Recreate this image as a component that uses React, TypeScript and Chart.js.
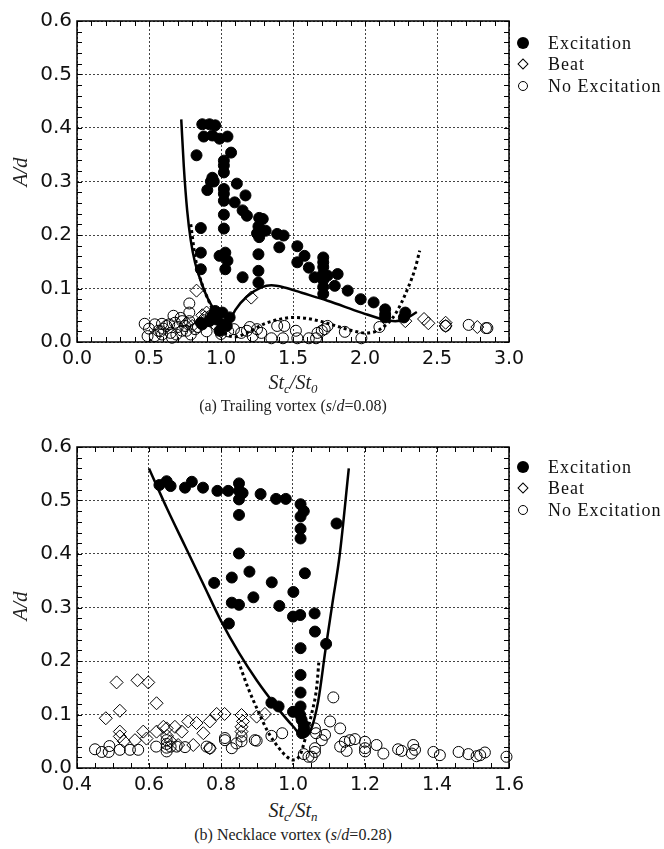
import React, { useEffect, useRef } from "react";
import { Chart, registerables } from "chart.js";
Chart.register(...registerables);

// ---------- Panel (a): Trailing vortex ----------
const topXTicks = [0, 0.5, 1.0, 1.5, 2.0, 2.5, 3.0];
const topYTicks = [0, 0.1, 0.2, 0.3, 0.4, 0.5, 0.6];

const topExcitation: [number, number][] = [
  [0.87, 0.407], [0.92, 0.407], [0.96, 0.405],
  [0.88, 0.384], [0.94, 0.386], [0.99, 0.38], [1.045, 0.384],
  [0.83, 0.349], [1.07, 0.354],
  [1.02, 0.339], [1.02, 0.33], [1.02, 0.317],
  [0.94, 0.307], [0.95, 0.3], [0.93, 0.3],
  [0.905, 0.284], [1.11, 0.296],
  [1.02, 0.286], [1.02, 0.277], [1.02, 0.264],
  [1.17, 0.274], [1.095, 0.261],
  [1.15, 0.246], [1.18, 0.236],
  [1.02, 0.238], [1.02, 0.212],
  [1.265, 0.232], [1.29, 0.23], [1.26, 0.216], [1.31, 0.208], [1.25, 0.203], [1.265, 0.196],
  [0.86, 0.213],
  [1.39, 0.202], [1.435, 0.199], [1.405, 0.177], [1.53, 0.179],
  [0.86, 0.167], [0.99, 0.161], [1.03, 0.167], [1.045, 0.152],
  [1.26, 0.164], [1.58, 0.161], [1.53, 0.149],
  [1.71, 0.158], [1.71, 0.149], [1.71, 0.14], [1.71, 0.128], [1.71, 0.116], [1.71, 0.103], [1.71, 0.09],
  [0.86, 0.136], [1.03, 0.136], [1.61, 0.139], [1.65, 0.121], [1.74, 0.124], [1.81, 0.127],
  [1.26, 0.133], [1.26, 0.111], [1.15, 0.121],
  [1.79, 0.105], [1.88, 0.096], [1.97, 0.08], [2.06, 0.074],
  [2.14, 0.061], [2.14, 0.052], [2.14, 0.046], [2.28, 0.055], [2.27, 0.046],
  [0.87, 0.033], [0.92, 0.039], [0.96, 0.058], [1.01, 0.055], [1.06, 0.046], [1.01, 0.033],
  [0.99, 0.021], [0.94, 0.049], [1.04, 0.03], [0.97, 0.042], [0.86, 0.036],
];

const topBeat: [number, number][] = [
  [0.83, 0.096], [1.21, 0.083], [0.87, 0.05], [0.9, 0.055], [0.93, 0.045], [0.88, 0.04],
  [0.95, 0.035], [1.0, 0.02], [0.8, 0.03], [0.76, 0.035], [0.89, 0.046],
  [2.28, 0.039], [2.41, 0.043], [2.44, 0.035], [2.56, 0.036], [2.56, 0.03], [2.78, 0.028],
];

const topNoExcitation: [number, number][] = [
  [0.47, 0.034], [0.54, 0.033], [0.59, 0.034], [0.64, 0.033], [0.68, 0.036], [0.73, 0.039],
  [0.78, 0.039], [0.78, 0.072], [0.78, 0.055], [0.67, 0.049], [0.72, 0.045],
  [0.49, 0.011], [0.54, 0.011], [0.565, 0.021], [0.59, 0.014], [0.65, 0.017], [0.66, 0.008],
  [0.69, 0.014], [0.73, 0.021], [0.76, 0.021], [0.79, 0.014], [0.82, 0.024],
  [0.5, 0.025], [0.6, 0.025], [0.62, 0.03], [0.7, 0.028], [0.75, 0.03], [0.84, 0.028], [0.58, 0.02],
  [1.09, 0.024], [1.14, 0.017], [1.18, 0.021], [1.22, 0.011], [1.25, 0.024], [1.28, 0.017], [1.2, 0.028],
  [1.35, 0.007], [1.39, 0.03], [1.44, 0.03], [1.43, 0.007], [1.52, 0.021], [1.53, 0.007],
  [1.61, 0.007], [1.67, 0.017], [1.7, 0.021], [1.72, 0.024], [1.74, 0.03], [1.66, 0.007],
  [1.86, 0.019], [1.975, 0.007], [2.1, 0.028], [2.56, 0.03], [2.72, 0.032], [2.84, 0.026], [2.85, 0.026],
  [0.93, 0.049], [1.0, 0.015], [1.05, 0.02], [0.9, 0.02],
];

const topSolid: [number, number][] = [
  [0.724, 0.416], [0.742, 0.327], [0.765, 0.246], [0.79, 0.19], [0.82, 0.148], [0.86, 0.114],
  [0.905, 0.083], [0.95, 0.061], [1.0, 0.036], [1.03, 0.03], [1.06, 0.039], [1.1, 0.06],
  [1.18, 0.085], [1.28, 0.102], [1.35, 0.106], [1.44, 0.102], [1.56, 0.092], [1.74, 0.077],
  [1.975, 0.055], [2.14, 0.041], [2.21, 0.039], [2.28, 0.043], [2.36, 0.056],
];

const topDotted: [number, number][] = [
  [0.79, 0.22], [0.82, 0.16], [0.86, 0.115], [0.91, 0.08], [0.96, 0.05], [1.0, 0.027],
  [1.05, 0.012], [1.1, 0.01], [1.2, 0.02], [1.3, 0.034], [1.4, 0.042], [1.5, 0.046],
  [1.6, 0.044], [1.7, 0.038], [1.8, 0.03], [1.9, 0.022], [2.0, 0.017], [2.1, 0.023],
  [2.21, 0.052], [2.3, 0.102], [2.35, 0.139], [2.38, 0.171],
];

// ---------- Panel (b): Necklace vortex ----------
const botXTicks = [0.4, 0.6, 0.8, 1.0, 1.2, 1.4, 1.6];
const botYTicks = [0, 0.1, 0.2, 0.3, 0.4, 0.5, 0.6];

const botExcitation: [number, number][] = [
  [0.629, 0.529], [0.649, 0.536], [0.66, 0.527], [0.7, 0.524], [0.719, 0.535], [0.75, 0.524],
  [0.79, 0.518], [0.82, 0.518], [0.85, 0.532], [0.85, 0.518], [0.86, 0.514], [0.85, 0.502],
  [0.91, 0.512], [0.953, 0.503], [0.98, 0.503], [1.021, 0.493], [1.03, 0.48], [1.021, 0.47],
  [1.021, 0.447], [1.021, 0.429], [1.121, 0.457], [0.85, 0.473], [0.85, 0.401], [0.879, 0.367],
  [0.781, 0.346], [0.83, 0.356], [0.941, 0.347], [1.033, 0.364], [1.001, 0.329], [0.89, 0.319],
  [0.83, 0.309], [0.85, 0.305], [0.962, 0.303], [1.0, 0.283], [1.02, 0.286], [1.06, 0.289],
  [0.822, 0.27], [1.061, 0.255], [1.092, 0.232], [1.021, 0.224], [1.021, 0.174], [1.021, 0.141],
  [1.021, 0.115], [1.0, 0.105], [1.02, 0.099], [1.024, 0.09], [1.03, 0.08], [1.03, 0.071],
  [1.025, 0.065], [0.94, 0.122], [0.96, 0.115],
];

const botBeat: [number, number][] = [
  [0.51, 0.16], [0.568, 0.164], [0.598, 0.16], [0.621, 0.121], [0.519, 0.107], [0.48, 0.093],
  [0.788, 0.101], [0.81, 0.101], [0.857, 0.099], [0.899, 0.096], [0.922, 0.101],
  [0.519, 0.068], [0.519, 0.059], [0.561, 0.052], [0.584, 0.068], [0.593, 0.055], [0.621, 0.068],
  [0.64, 0.077], [0.649, 0.074], [0.672, 0.077], [0.691, 0.068], [0.709, 0.087], [0.732, 0.084],
  [0.751, 0.065], [0.769, 0.087], [0.861, 0.087], [0.857, 0.077], [0.857, 0.068], [0.723, 0.043],
  [0.681, 0.043], [0.769, 0.037], [0.65, 0.06], [0.66, 0.05], [0.53, 0.05],
];

const botNoExcitation: [number, number][] = [
  [0.45, 0.035], [0.469, 0.03], [0.488, 0.03], [0.49, 0.041], [0.519, 0.034], [0.547, 0.034],
  [0.57, 0.034], [0.62, 0.04], [0.649, 0.052], [0.649, 0.045], [0.649, 0.038], [0.649, 0.031],
  [0.66, 0.04], [0.677, 0.04], [0.7, 0.039], [0.76, 0.04], [0.769, 0.037], [0.811, 0.052],
  [0.83, 0.037], [0.843, 0.046], [0.857, 0.059], [0.857, 0.05], [0.894, 0.052], [0.811, 0.056],
  [0.94, 0.06], [0.899, 0.051], [0.97, 0.065], [1.112, 0.132], [1.103, 0.087], [1.131, 0.074],
  [1.061, 0.074], [1.064, 0.065], [1.089, 0.062], [1.08, 0.052], [1.03, 0.026], [1.043, 0.021],
  [1.052, 0.021], [1.061, 0.03], [1.061, 0.037], [1.131, 0.04], [1.144, 0.049], [1.158, 0.052],
  [1.172, 0.054], [1.149, 0.032], [1.2, 0.049], [1.2, 0.037], [1.2, 0.031], [1.232, 0.043],
  [1.251, 0.027], [1.292, 0.035], [1.302, 0.032], [1.334, 0.043], [1.339, 0.034], [1.33, 0.027],
  [1.39, 0.03], [1.408, 0.024], [1.46, 0.03], [1.487, 0.026], [1.51, 0.022], [1.52, 0.024],
  [1.533, 0.029], [1.593, 0.021],
];

const botSolid: [number, number][] = [
  [0.6, 0.56], [0.65, 0.485], [0.7, 0.415], [0.75, 0.345], [0.8, 0.275], [0.85, 0.215],
  [0.9, 0.163], [0.95, 0.118], [1.0, 0.078], [1.03, 0.058], [1.05, 0.072], [1.07, 0.125],
  [1.09, 0.22], [1.11, 0.31], [1.13, 0.4], [1.155, 0.56],
];

const botDotted: [number, number][] = [
  [0.848, 0.2], [0.875, 0.15], [0.904, 0.105], [0.93, 0.068], [0.96, 0.038], [0.985, 0.02],
  [1.0, 0.015], [1.02, 0.025], [1.038, 0.065], [1.052, 0.102], [1.066, 0.152], [1.072, 0.2],
];

// ---------- chart helpers ----------
const toXY = (a: [number, number][]) => a.map(([x, y]) => ({ x, y }));

const frameTicksPlugin = {
  id: "frameTicks",
  afterDraw(chart: any, _args: any, opts: any) {
    const { ctx, chartArea: a, scales } = chart;
    const xs = scales.x;
    const ys = scales.y;
    const L = 5;
    ctx.save();
    ctx.strokeStyle = "#000";
    ctx.lineWidth = 1;
    ctx.beginPath();
    const nx = Math.round((opts.xMax - opts.xMin) / opts.xMinor);
    for (let i = 0; i <= nx; i++) {
      const v = opts.xMin + i * opts.xMinor;
      const p = Math.round(xs.getPixelForValue(v)) + 0.5;
      ctx.moveTo(p, a.bottom);
      ctx.lineTo(p, a.bottom - L);
      ctx.moveTo(p, a.top);
      ctx.lineTo(p, a.top + L);
    }
    const ny = Math.round((opts.yMax - opts.yMin) / opts.yMinor);
    for (let i = 0; i <= ny; i++) {
      const v = opts.yMin + i * opts.yMinor;
      const p = Math.round(ys.getPixelForValue(v)) + 0.5;
      ctx.moveTo(a.left, p);
      ctx.lineTo(a.left + L, p);
      ctx.moveTo(a.right, p);
      ctx.lineTo(a.right - L, p);
    }
    ctx.stroke();
    ctx.lineWidth = 1.5;
    ctx.strokeRect(a.left, a.top, a.right - a.left, a.bottom - a.top);
    ctx.restore();
  },
};

function buildConfig(p: {
  exc: [number, number][];
  beat: [number, number][];
  none: [number, number][];
  solid: [number, number][];
  dotted: [number, number][];
  xTicks: number[];
  yTicks: number[];
  xMinor: number;
  yMinor: number;
  height: number;
}): any {
  const xMin = p.xTicks[0];
  const xMax = p.xTicks[p.xTicks.length - 1];
  const yMin = p.yTicks[0];
  const yMax = p.yTicks[p.yTicks.length - 1];
  const plotTop = 21;
  const plotH = 321;
  return {
    type: "scatter",
    data: {
      datasets: [
        {
          type: "line",
          data: toXY(p.solid),
          borderColor: "#000",
          borderWidth: 2.5,
          pointRadius: 0,
          showLine: true,
          fill: false,
          cubicInterpolationMode: "monotone",
          order: 0,
        },
        {
          type: "line",
          data: toXY(p.dotted),
          borderColor: "#000",
          borderWidth: 3,
          borderDash: [3, 3],
          pointRadius: 0,
          showLine: true,
          fill: false,
          cubicInterpolationMode: "monotone",
          order: 0,
        },
        {
          data: toXY(p.exc),
          pointStyle: "circle",
          pointRadius: 5.5,
          backgroundColor: "#000",
          borderColor: "#000",
          borderWidth: 1,
          clip: false,
          order: 1,
        },
        {
          data: toXY(p.beat),
          pointStyle: "rectRot",
          pointRadius: 6.5,
          backgroundColor: "rgba(255,255,255,0)",
          borderColor: "#000",
          borderWidth: 1,
          clip: false,
          order: 2,
        },
        {
          data: toXY(p.none),
          pointStyle: "circle",
          pointRadius: 5.5,
          backgroundColor: "rgba(255,255,255,0)",
          borderColor: "#000",
          borderWidth: 1,
          clip: false,
          order: 3,
        },
      ],
    },
    options: {
      animation: false,
      responsive: false,
      devicePixelRatio: 1,
      layout: { padding: { top: plotTop, right: 664 - 509, left: 0, bottom: 0 } },
      plugins: {
        legend: { display: false },
        tooltip: { enabled: false },
        frameTicks: { xMin, xMax, yMin, yMax, xMinor: p.xMinor, yMinor: p.yMinor },
      },
      scales: {
        x: {
          type: "linear",
          min: xMin,
          max: xMax,
          afterBuildTicks: (s: any) => {
            s.ticks = p.xTicks.map((v) => ({ value: v }));
          },
          afterFit: (s: any) => {
            s.height = p.height - plotTop - plotH;
          },
          ticks: {
            callback: (v: any) => Number(v).toFixed(1),
            color: "#111",
            font: { family: "'DejaVu Sans'", size: 19 },
            padding: 6,
            maxRotation: 0,
            autoSkip: false,
          },
          grid: { color: "#444", lineWidth: 1, drawTicks: false },
          border: { display: false, dash: [2, 2] },
        },
        y: {
          type: "linear",
          min: yMin,
          max: yMax,
          afterBuildTicks: (s: any) => {
            s.ticks = p.yTicks.map((v) => ({ value: v }));
          },
          afterFit: (s: any) => {
            s.width = 77;
          },
          ticks: {
            callback: (v: any) => Number(v).toFixed(1),
            color: "#111",
            font: { family: "'DejaVu Sans'", size: 20 },
            padding: 5,
            autoSkip: false,
          },
          grid: { color: "#444", lineWidth: 1, drawTicks: false },
          border: { display: false, dash: [2, 2] },
        },
      },
    },
    plugins: [frameTicksPlugin],
  };
}

const serif = "'Liberation Serif', 'Times New Roman', serif";

function LegendBlock({ top }: { top: number }) {
  const rows = [
    { label: "Excitation", kind: "fill" },
    { label: "Beat", kind: "diamond" },
    { label: "No Excitation", kind: "open" },
  ];
  const ys = [0, 21, 43];
  return (
    <>
      {rows.map((r, i) => {
        let marker: React.ReactNode;
        if (r.kind === "fill") {
          marker = (
            <div style={{ position: "absolute", left: 523 - 6, top: top + ys[i] - 6, width: 12, height: 12, borderRadius: "50%", background: "#000" }} />
          );
        } else if (r.kind === "diamond") {
          marker = (
            <div style={{ position: "absolute", left: 523 - 4.5, top: top + ys[i] - 4.5, width: 8, height: 8, border: "1.5px solid #000", transform: "rotate(45deg)", boxSizing: "border-box" }} />
          );
        } else {
          marker = (
            <div style={{ position: "absolute", left: 523 - 5, top: top + ys[i] - 5, width: 10, height: 10, borderRadius: "50%", border: "1.5px solid #000", boxSizing: "border-box" }} />
          );
        }
        return (
          <React.Fragment key={r.label}>
            {marker}
            <div
              style={{
                position: "absolute",
                left: 548,
                top: top + ys[i],
                transform: "translateY(-50%)",
                fontFamily: serif,
                fontSize: 18,
                letterSpacing: 1,
                lineHeight: 1,
                whiteSpace: "nowrap",
                color: "#111",
              }}
            >
              {r.label}
            </div>
          </React.Fragment>
        );
      })}
    </>
  );
}

function YTitle({ cy }: { cy: number }) {
  return (
    <div
      style={{
        position: "absolute",
        left: 20,
        top: cy,
        transform: "translate(-50%, -50%) rotate(-90deg)",
        fontFamily: serif,
        fontStyle: "italic",
        fontSize: 21,
        lineHeight: 1,
        whiteSpace: "nowrap",
        color: "#222",
      }}
    >
      A/d
    </div>
  );
}

function XTitle({ cy, sub }: { cy: number; sub: string }) {
  const subStyle: React.CSSProperties = { fontSize: 13, position: "relative", top: 4 };
  return (
    <div
      style={{
        position: "absolute",
        left: 293,
        top: cy,
        transform: "translate(-50%, -50%)",
        fontFamily: serif,
        fontStyle: "italic",
        fontSize: 20,
        lineHeight: 1,
        whiteSpace: "nowrap",
        color: "#222",
      }}
    >
      St<span style={subStyle}>c</span>/St<span style={subStyle}>{sub}</span>
    </div>
  );
}

function Caption({ cy, letter, name, ratio }: { cy: number; letter: string; name: string; ratio: string }) {
  return (
    <div
      style={{
        position: "absolute",
        left: 293,
        top: cy,
        transform: "translate(-50%, -50%)",
        fontFamily: serif,
        fontSize: 16,
        lineHeight: 1,
        whiteSpace: "nowrap",
        color: "#222",
      }}
    >
      ({letter}) {name} (<i>s</i>/<i>d</i>={ratio})
    </div>
  );
}

export default function App() {
  const topRef = useRef<HTMLCanvasElement>(null);
  const botRef = useRef<HTMLCanvasElement>(null);

  useEffect(() => {
    const c1 = new Chart(
      topRef.current as HTMLCanvasElement,
      buildConfig({
        exc: topExcitation,
        beat: topBeat,
        none: topNoExcitation,
        solid: topSolid,
        dotted: topDotted,
        xTicks: topXTicks,
        yTicks: topYTicks,
        xMinor: 0.1,
        yMinor: 0.02,
        height: 372,
      })
    );
    const c2 = new Chart(
      botRef.current as HTMLCanvasElement,
      buildConfig({
        exc: botExcitation,
        beat: botBeat,
        none: botNoExcitation,
        solid: botSolid,
        dotted: botDotted,
        xTicks: botXTicks,
        yTicks: botYTicks,
        xMinor: 0.05,
        yMinor: 0.02,
        height: 372,
      })
    );
    return () => {
      c1.destroy();
      c2.destroy();
    };
  }, []);

  return (
    <div style={{ position: "absolute", left: 0, top: 0, width: 664, height: 849, background: "#fff", overflow: "hidden" }}>
      <canvas ref={topRef} width={664} height={372} style={{ position: "absolute", left: 0, top: 0, width: 664, height: 372 }} />
      <canvas ref={botRef} width={664} height={372} style={{ position: "absolute", left: 0, top: 426, width: 664, height: 372 }} />
      <YTitle cy={172} />
      <YTitle cy={606} />
      <XTitle cy={382} sub="0" />
      <XTitle cy={810} sub="n" />
      <Caption cy={406} letter="a" name="Trailing vortex" ratio="0.08" />
      <Caption cy={835} letter="b" name="Necklace vortex" ratio="0.28" />
      <LegendBlock top={43} />
      <LegendBlock top={467} />
    </div>
  );
}
